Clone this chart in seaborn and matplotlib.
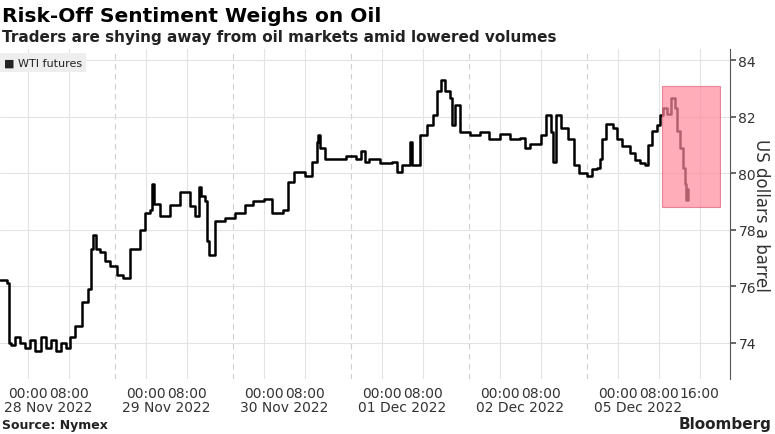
import matplotlib
matplotlib.use("Agg")
import matplotlib.pyplot as plt
import matplotlib.transforms as mtransforms
import seaborn as sns
import pandas as pd

sns.set_theme(style="white")
plt.rcParams['font.family'] = ['DejaVu Sans']

# trading hours since session start (Sun 18:00), price
hours = [0.6, 2.0, 2.4, 2.8, 3.5, 4.5, 5.5, 6.5, 7.5, 8.5, 9.5, 10.5, 11.5, 12.5, 13.5, 14.3,
         15.2, 16.6, 17.7, 18.4, 18.8, 19.3, 20.0, 21.0, 22.0, 23.5, 24.5, 25.9, 27.9, 28.9,
         29.8, 30.2, 30.6, 31.8, 33.7, 35.7, 37.6, 38.6, 39.4, 39.7, 40.5, 41.0, 41.3, 42.5,
         44.5, 46.4, 48.3, 50.0, 52.0, 53.6, 55.7, 56.7, 58.0, 60.0, 61.4, 62.3, 62.6, 63.0,
         64.0, 66.0, 68.0, 70.0, 71.0, 71.7, 72.5, 74.7, 77.0, 78.0, 79.0, 80.5, 81.0, 82.4,
         83.8, 85.0, 85.8, 86.5, 87.3, 88.3, 88.7, 89.3, 90.3, 92.2, 94.2, 96.0, 98.0, 100.0,
         102.0, 103.0, 104.0, 106.0, 107.0, 108.0, 108.4, 109.0, 110.0, 111.4, 112.5, 113.5,
         115.0, 116.0, 117.0, 117.5, 118.0, 118.7, 120.0, 120.8, 121.8, 123.4, 124.4, 125.3,
         126.3, 127.0, 127.7, 128.6, 129.2, 129.8, 130.6, 131.4, 132.2, 132.6, 133.2, 133.8,
         134.2, 134.4, 134.7]
prices = [76.2, 76.1, 74.0, 73.9, 74.2, 74.0, 73.8, 74.1, 73.7, 74.2, 73.8, 74.1, 73.7, 74.0, 73.8, 74.2,
          74.6, 75.45, 75.9, 77.3, 77.8, 77.3, 77.2, 76.9, 76.7, 76.4, 76.3, 77.3, 78.0, 78.6,
          78.7, 79.6, 78.9, 78.5, 78.86, 79.35, 78.85, 78.5, 79.5, 79.2, 79.0, 77.6, 77.1, 78.3,
          78.4, 78.6, 78.86, 79.0, 79.1, 78.6, 78.7, 79.7, 80.05, 79.9, 80.4, 81.1, 81.35, 80.9,
          80.5, 80.5, 80.6, 80.5, 80.8, 80.4, 80.5, 80.35, 80.4, 80.05, 80.3, 81.1, 80.3, 81.35,
          81.7, 82.06, 82.9, 83.3, 82.9, 82.65, 81.7, 82.4, 81.45, 81.35, 81.45, 81.2, 81.4, 81.2,
          81.25, 80.9, 81.05, 81.35, 82.05, 81.45, 80.4, 82.05, 81.6, 81.2, 80.3, 80.0,
          79.9, 80.15, 80.2, 80.5, 81.2, 81.75, 81.6, 81.2, 80.95, 80.7, 80.45, 80.35,
          80.3, 81.0, 81.5, 81.7, 82.05, 82.3, 82.1, 82.65, 82.3, 81.5, 80.9, 80.2,
          79.6, 79.05, 79.45]
date_labels = ["28 Nov 2022", "29 Nov 2022", "30 Nov 2022", "01 Dec 2022", "02 Dec 2022", "05 Dec 2022"]
y_ticks = [74, 76, 78, 80, 82, 84]

df = pd.DataFrame({"h": hours, "p": prices})

fig = plt.figure(figsize=(7.75, 4.35), dpi=100)
ax = fig.add_axes([0.0, 0.126, 0.942, 0.759])

S = 23  # hours per session
tick_pos, tick_lab = [], []
for k in range(6):
    tick_pos += [S * k + 6, S * k + 14]
    tick_lab += ["00:00", "08:00"]
tick_pos.append(S * 5 + 22)
tick_lab.append("16:00")

for t in tick_pos:
    ax.axvline(t, color="#e3e3e3", lw=0.8, zorder=0)
for k in range(1, 6):
    ax.axvline(S * k, color="#cfcfcf", lw=0.8, ls=(0, (5, 4)), zorder=0)
for y in y_ticks:
    ax.axhline(y, color="#e3e3e3", lw=0.8, zorder=0)

sns.lineplot(data=df, x="h", y="p", ax=ax, color="black", lw=1.8,
             drawstyle="steps-post", legend=False, zorder=3)

ax.add_patch(plt.Rectangle((129.6, 78.8), 11.4, 4.3, facecolor="#ff8a9a", alpha=0.7,
                           edgecolor="#e0607a", lw=0.8, zorder=4))

ax.set_xlim(0.6, 142.9)
ax.set_ylim(72.7, 84.4)
ax.set_xticks(tick_pos)
ax.set_xticklabels(tick_lab, fontsize=10, color="#333333")
ax.set_yticks(y_ticks)
ax.set_yticklabels([str(v) for v in y_ticks], fontsize=10, color="#333333")
ax.yaxis.tick_right()
ax.yaxis.set_label_position("right")
ax.set_ylabel("US dollars a barrel", fontsize=12, rotation=270, labelpad=10, color="#333333")
ax.set_xlabel("")
ax.tick_params(axis="y", length=4, color="#555555", pad=2, right=True)
ax.tick_params(axis="x", length=0, pad=5)
for s in ["top", "left", "bottom"]:
    ax.spines[s].set_visible(False)
ax.spines["right"].set_color("#555555")
ax.spines["right"].set_linewidth(0.8)

trans = mtransforms.blended_transform_factory(ax.transData, ax.transAxes)
for k, d in enumerate(date_labels):
    ax.text(S * k + 10, -0.085, d, transform=trans, ha="center", va="center",
            fontsize=10, color="#333333")

ax.text(0.005, 0.975, "■ WTI futures", transform=ax.transAxes, ha="left", va="top",
        fontsize=8, color="#222222",
        bbox=dict(facecolor="#eeeeee", edgecolor="none", boxstyle="square,pad=0.4"))

fig.text(0.003, 0.985, "Risk-Off Sentiment Weighs on Oil", fontsize=14.5, fontweight="bold",
         ha="left", va="top", color="black")
fig.text(0.003, 0.932, "Traders are shying away from oil markets amid lowered volumes", fontsize=11,
         fontweight="bold", ha="left", va="top", color="#222222")
fig.text(0.003, 0.008, "Source: Nymex", fontsize=9, fontweight="bold", ha="left", va="bottom",
         color="#222222")
fig.text(0.995, 0.008, "Bloomberg", fontsize=11, fontweight="bold", ha="right", va="bottom",
         color="#222222")

fig.savefig("out.png", dpi=100)
